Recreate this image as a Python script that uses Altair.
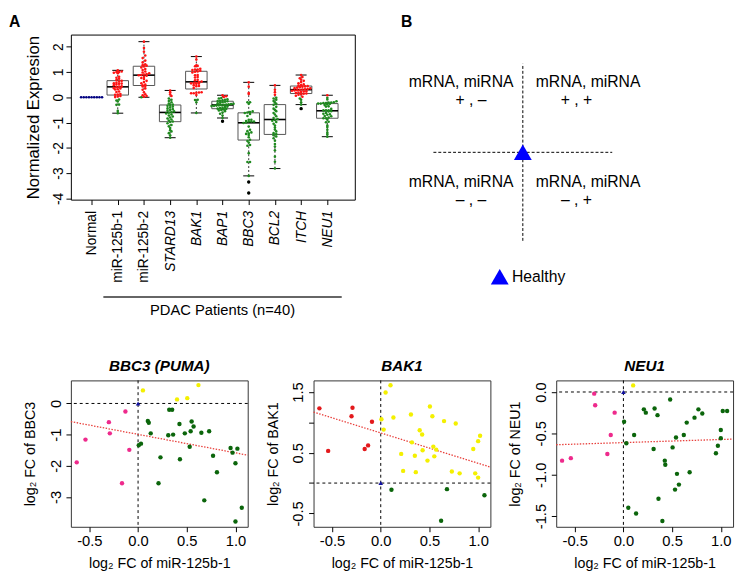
import altair as alt
import numpy as np
import pandas as pd

FONT = "Liberation Sans"

# ---------------- data ----------------
categories = ["Normal", "miR-125b-1", "miR-125b-2", "STARD13", "BAK1",
              "BAP1", "BBC3", "BCL2", "ITCH", "NEU1"]
first_gene = "STARD13"          # categories from here on are gene symbols (italic)
first_patient = "miR-125b-1"
last_patient = "NEU1"
cohort_label = "PDAC Patients (n=40)"

normal = [0.0] * 9
healthy_fc = 0.0

# per-patient log2 fold changes (40 PDAC patients)
mir125b1 = [-0.63, -0.54, -0.30, -0.29, -0.165, -0.13, -0.09, 0.007, 0.03, 0.05,
            0.10, 0.11, 0.13, 0.21, 0.23, 0.31, 0.32, 0.35, 0.36, 0.40,
            0.425, 0.43, 0.48, 0.505, 0.53, 0.54, 0.55, 0.57, 0.62, 0.65,
            0.68, 0.73, 0.77, 0.81, 0.95, 0.97, 1.0, 1.0, 1.02, 1.065]
bbc3 = [-1.89, -1.16, -0.60, -0.96, -2.56, -0.26, -1.49, -1.34, -1.29, 0.42,
        -0.56, -0.62, -0.96, -2.56, -1.73, -1.02, -0.20, -0.20, -1.00, 0.13,
        -0.66, -1.79, -0.96, 0.17, -1.39, -0.89, -0.58, -0.74, 0.59, -0.94,
        -3.11, -0.89, -1.68, -2.21, -1.43, -1.58, -1.92, -3.79, -1.45, -3.35]
bak1 = [1.23, 0.53, 1.10, 1.24, 0.56, 0.62, 1.01, 1.05, 0.88, 1.49,
        1.61, -0.11, 1.08, 0.48, 0.20, 1.13, 0.67, 0.45, 0.18, 0.87,
        0.80, 0.54, 0.37, 1.26, 1.10, 0.60, 0.44, 0.55, -0.62, 1.02,
        -0.10, 0.19, 0.98, 0.16, 0.56, 0.16, 0.69, 0.09, 0.78, -0.20]
neu1 = [-0.83, -0.80, -0.02, -0.16, -0.75, -0.52, -0.25, -0.36, -0.62, -1.40,
        0.08, -0.52, -1.47, -0.21, -0.25, -0.69, -0.20, -0.28, -1.29, -1.56,
        -0.83, -0.88, -0.09, -0.67, -1.18, -0.55, -0.99, -1.12, -0.52, -0.37,
        -0.97, -0.31, -0.21, -0.26, -0.74, -0.65, -0.56, -0.46, -0.23, -0.23]
mir125b2 = [0.0, 0.02, 0.05, 0.08, 0.12, 0.2, 0.3, 0.35, 0.43, 0.45,
            0.47, 0.5, 0.55, 0.6, 0.65, 0.72, 0.76, 0.8, 0.85, 0.87,
            0.88, 0.9, 0.92, 0.95, 0.98, 1.02, 1.08, 1.12, 1.18, 1.22,
            1.25, 1.27, 1.3, 1.38, 1.45, 1.55, 1.65, 1.8, 1.95, 2.2]
stard13 = [-1.6, -1.5, -1.42, -1.35, -1.3, -1.22, -1.15, -1.1, -1.03, -0.98,
           -0.96, -0.92, -0.88, -0.84, -0.8, -0.76, -0.72, -0.68, -0.64, -0.61,
           -0.59, -0.56, -0.53, -0.5, -0.47, -0.44, -0.4, -0.37, -0.34, -0.31,
           -0.29, -0.25, -0.2, -0.15, -0.1, -0.05, 0.05, 0.12, 0.2, 0.27]
bap1 = [-0.95, -0.82, -0.72, -0.65, -0.6, -0.55, -0.52, -0.5, -0.48, -0.46,
        -0.45, -0.43, -0.41, -0.39, -0.37, -0.35, -0.34, -0.33, -0.32, -0.31,
        -0.3, -0.29, -0.28, -0.27, -0.26, -0.24, -0.22, -0.2, -0.18, -0.16,
        -0.15, -0.14, -0.12, -0.1, -0.08, -0.05, -0.03, 0.01, 0.04, 0.08]
bcl2 = [-2.82, -2.55, -2.35, -2.1, -1.95, -1.85, -1.72, -1.62, -1.55, -1.5,
        -1.46, -1.42, -1.35, -1.28, -1.2, -1.12, -1.05, -0.98, -0.93, -0.9,
        -0.86, -0.82, -0.75, -0.68, -0.62, -0.55, -0.5, -0.45, -0.38, -0.3,
        -0.26, -0.2, -0.15, -0.1, -0.05, -0.02, 0.1, 0.2, 0.3, 0.47]
itch = [-0.45, -0.29, -0.2, -0.1, -0.05, 0.02, 0.06, 0.1, 0.12, 0.14,
        0.15, 0.17, 0.19, 0.21, 0.23, 0.24, 0.26, 0.27, 0.28, 0.29,
        0.31, 0.32, 0.33, 0.35, 0.36, 0.38, 0.4, 0.42, 0.43, 0.44,
        0.46, 0.48, 0.51, 0.55, 0.6, 0.65, 0.7, 0.75, 0.8, 0.88]

series = [normal, mir125b1, mir125b2, stard13, bak1, bap1, bbc3, bcl2, itch, neu1]

# quadrant schematic (panel B)
quad_mrna = ["+", "+", "\u2013", "\u2013"]
quad_mirna = ["\u2013", "+", "\u2013", "+"]
quad_header = "mRNA, miRNA"
healthy_label = "Healthy"


# ---------------- derived tables ----------------
def swarm_offsets(vals, bin_h=0.1, step=0.1, max_off=0.42):
    v = np.asarray(vals, dtype=float)
    bins = np.round(v / bin_h).astype(int)
    off = np.zeros(len(v))
    for b in np.unique(bins):
        members = np.where(bins == b)[0]
        members = members[np.argsort(v[members])]
        k = len(members)
        off[members] = (np.arange(k) - (k - 1) / 2.0) * step
    m = np.abs(off).max() if len(off) else 0
    if m > max_off:
        off *= max_off / m
    return off


pts_rows, box_rows, out_rows = [], [], []
for i, (cat, vals) in enumerate(zip(categories, series), start=1):
    v = np.asarray(vals, dtype=float)
    off = swarm_offsets(v)
    for val, o in zip(v, off):
        pts_rows.append({"cat": cat, "idx": i, "value": val, "xpos": i + o})
    if cat != "Normal":
        q1, med, q3 = np.percentile(v, [25, 50, 75])
        iqr = q3 - q1
        lo_f, hi_f = q1 - 1.5 * iqr, q3 + 1.5 * iqr
        inside = v[(v >= lo_f) & (v <= hi_f)]
        box_rows.append({"cat": cat, "idx": i, "q1": q1, "med": med, "q3": q3,
                         "lo": inside.min(), "hi": inside.max()})
        for val in v[(v < lo_f) | (v > hi_f)]:
            out_rows.append({"cat": cat, "idx": i, "value": val})

pts_df = pd.DataFrame(pts_rows)
box_df = pd.DataFrame(box_rows)
out_df = pd.DataFrame(out_rows)
first_idx = categories.index(first_patient) + 1
last_idx = categories.index(last_patient) + 1
bracket_df = pd.DataFrame({"x1": [first_idx - 0.55], "x2": [last_idx + 0.55],
                           "label": [cohort_label]})
bracket_df["xm"] = (bracket_df["x1"] + bracket_df["x2"]) / 2

# ---------------- panel A ----------------
xA = alt.Scale(domain=[0.21, 11.05], nice=False, zero=False)
yA = alt.Scale(domain=[-4.05, 2.48], nice=False, zero=False)
gene_start = categories.index(first_gene) + 1
label_expr = "[" + ",".join("'%s'" % c for c in categories) + "][datum.value - 1]"

xaxisA = alt.Axis(values=list(range(1, len(categories) + 1)), labelExpr=label_expr,
                  labelAngle=270, labelFontSize=14, labelPadding=6, tickSize=5,
                  labelFontStyle={"condition": {"test": "datum.value >= %d" % gene_start,
                                                "value": "italic"}, "value": "normal"},
                  title=None, labelOverlap=False, labelFlush=False)
yaxisA = alt.Axis(values=[-4, -3, -2, -1, 0, 1, 2], labelExpr="toString(datum.value)",
                  labelAngle=270, labelAlign="center", labelBaseline="bottom",
                  labelFontSize=14, labelPadding=1, tickSize=5,
                  title="Normalized Expresion", titleFontSize=17,
                  titleFontWeight="normal", titlePadding=9, labelOverlap=False)


def XA(f):
    return alt.X(f, scale=xA, axis=xaxisA)


def YA(f):
    return alt.Y(f, scale=yA, axis=yaxisA)


box_base = alt.Chart(box_df).transform_calculate(
    xl="datum.idx - 0.41", xr="datum.idx + 0.41",
    cl="datum.idx - 0.21", cr="datum.idx + 0.21")

box = box_base.mark_rect(fillOpacity=0, stroke="#555555", strokeWidth=1).encode(
    x=XA("xl:Q"), x2="xr:Q", y=YA("q1:Q"), y2="q3:Q")
wlo = box_base.mark_rule(color="black", strokeWidth=0.8, strokeDash=[2, 2]).encode(
    x=XA("idx:Q"), y=YA("lo:Q"), y2="q1:Q")
whi = box_base.mark_rule(color="black", strokeWidth=0.8, strokeDash=[2, 2]).encode(
    x=XA("idx:Q"), y=YA("q3:Q"), y2="hi:Q")
clo = box_base.mark_rule(color="black", strokeWidth=1).encode(
    x=XA("cl:Q"), x2="cr:Q", y=YA("lo:Q"))
chi = box_base.mark_rule(color="black", strokeWidth=1).encode(
    x=XA("cl:Q"), x2="cr:Q", y=YA("hi:Q"))
medl = box_base.mark_rule(color="black", strokeWidth=1.6).encode(
    x=XA("xl:Q"), x2="xr:Q", y=YA("med:Q"))

swarm = alt.Chart(pts_df).transform_calculate(
    col="datum.cat == 'Normal' ? '#000080' : (datum.value > 0 ? '#ff1414' : '#1f8a1f')"
).mark_circle(size=7, opacity=1).encode(
    x=XA("xpos:Q"), y=YA("value:Q"), color=alt.Color("col:N", scale=None))
outl = alt.Chart(out_df).mark_circle(size=12, color="black", opacity=1).encode(
    x=XA("idx:Q"), y=YA("value:Q"))

br_rule = alt.Chart(bracket_df).mark_rule(color="#333333", strokeWidth=1.5).encode(
    x=XA("x1:Q"), x2="x2:Q", y=alt.value(267))
br_text = alt.Chart(bracket_df).mark_text(fontSize=15, baseline="alphabetic", align="center",
                                          font=FONT, color="black").encode(
    x=XA("xm:Q"), y=alt.value(285), text="label:N")

panelA = alt.layer(box, wlo, whi, clo, chi, medl, swarm, outl, br_rule, br_text).properties(
    width=289, height=168,
    title=alt.TitleParams("A", anchor="start", frame="group", dx=-63, offset=5,
                          fontSize=16, fontWeight="bold"))

# ---------------- panel B ----------------
xB = alt.Scale(domain=[-1, 1], nice=False, zero=False)
yB = alt.Scale(domain=[-1.60, 1.33], nice=False, zero=False)
quad_df = pd.DataFrame({"mrna": quad_mrna, "mirna": quad_mirna})
healthy_df = pd.DataFrame({"label": [healthy_label], "mir": [healthy_fc], "mrna": [healthy_fc]})

vline = alt.Chart(healthy_df).transform_calculate(lo="-1", hi="1").mark_rule(
    color="black", strokeWidth=1, strokeDash=[3, 2]).encode(
    x=alt.X("mir:Q", scale=xB, axis=None), y=alt.Y("lo:Q", scale=yB, axis=None), y2="hi:Q")
hline = alt.Chart(healthy_df).transform_calculate(lo="-1", hi="1").mark_rule(
    color="black", strokeWidth=1, strokeDash=[3, 2]).encode(
    y=alt.Y("mrna:Q", scale=yB, axis=None), x=alt.X("lo:Q", scale=xB, axis=None), x2="hi:Q")
quad_base = alt.Chart(quad_df).transform_calculate(
    tx1="datum.mirna == '+' ? 0.73 : -0.69",
    tx2="datum.mirna == '+' ? 0.60 : -0.58",
    ty1="datum.mrna == '+' ? 0.74 : -0.39",
    ty2="datum.mrna == '+' ? 0.535 : -0.595",
    head="'%s'" % quad_header,
    signs="datum.mrna + ' , ' + datum.mirna")
qhead = quad_base.mark_text(fontSize=16, align="center", baseline="alphabetic",
                            font=FONT, color="black").encode(
    x=alt.X("tx1:Q", scale=xB, axis=None), y=alt.Y("ty1:Q", scale=yB, axis=None),
    text=alt.Text("head:N"))
qsign = quad_base.mark_text(fontSize=16, align="center", baseline="alphabetic",
                            font=FONT, color="black").encode(
    x=alt.X("tx2:Q", scale=xB, axis=None), y=alt.Y("ty2:Q", scale=yB, axis=None),
    text=alt.Text("signs:N"))
tri = alt.Chart(healthy_df).mark_point(shape="triangle-up", filled=True, size=330,
                                       opacity=1).encode(
    x=alt.X("mir:Q", scale=xB, axis=None), y=alt.Y("mrna:Q", scale=yB, axis=None),
    color=alt.Color("label:N", scale=alt.Scale(domain=[healthy_label], range=["#0000ff"]),
                    legend=alt.Legend(orient="none", legendX=58, legendY=237, title=None,
                                      symbolType="triangle-up", symbolSize=330,
                                      symbolStrokeWidth=0, symbolOpacity=1,
                                      labelFontSize=16, labelFont=FONT, labelColor="black",
                                      labelOffset=3, padding=0)))

panelB = alt.layer(vline, hline, qhead, qsign, tri).properties(
    width=182, height=264, view=alt.ViewBackground(strokeOpacity=0),
    title=alt.TitleParams("B", anchor="start", frame="group", dx=-33, offset=5,
                          fontSize=16, fontWeight="bold"))


# ---------------- scatter panels ----------------
def fmt(spec):
    return "replace(format(datum.value, '%s'), '\u2212', '-')" % spec


def scatter(gene_vals, gene, title, ydom, yvals, ylabels):
    df = pd.DataFrame({"mir": mir125b1, "fc": gene_vals})
    href = pd.DataFrame({"h": [healthy_fc]})
    xdom = [-0.69, 1.126]
    xs = alt.Scale(domain=xdom, nice=False, zero=False)
    ys = alt.Scale(domain=ydom, nice=False, zero=False)
    xax = alt.Axis(values=[-0.5, 0, 0.5, 1.0], labelExpr=fmt(".1f"), labelFontSize=15,
                   tickSize=5, labelPadding=2, title="log\u2082 FC of miR-125b-1",
                   titleFontSize=14.5, titleFontWeight="normal", titlePadding=8,
                   labelOverlap=False, labelFlush=False)
    yax = alt.Axis(values=yvals, labelExpr=ylabels, labelAngle=270, labelAlign="center",
                   labelBaseline="bottom", labelFontSize=15, tickSize=5, labelPadding=3,
                   title="log\u2082 FC of " + gene, titleFontSize=14.5,
                   titleFontWeight="normal", titlePadding=11, labelOverlap=False)

    def X(f):
        return alt.X(f, scale=xs, axis=xax)

    def Y(f):
        return alt.Y(f, scale=ys, axis=yax)

    hz = alt.Chart(href).mark_rule(color="black", strokeDash=[3, 3], strokeWidth=1).encode(
        y=Y("h:Q"))
    vt = alt.Chart(href).mark_rule(color="black", strokeDash=[3, 3], strokeWidth=1).encode(
        x=X("h:Q"))
    reg = alt.Chart(df).transform_regression("mir", "fc", extent=xdom).mark_line(
        color="#e8403c", strokeDash=[1.5, 1.5], strokeWidth=1.3).encode(
        x=X("mir:Q"), y=Y("fc:Q"))
    pts = alt.Chart(df).transform_calculate(
        col="datum.mir < 0 ? (datum.fc < 0 ? '#ee2a8c' : '#e3191c') : "
            "(datum.fc < 0 ? '#0b650b' : '#f4f000')"
    ).mark_circle(size=20, opacity=1).encode(
        x=X("mir:Q"), y=Y("fc:Q"), color=alt.Color("col:N", scale=None))
    hp = alt.Chart(href).mark_point(shape="triangle-up", filled=True, size=22, opacity=1,
                                    color="#1010a0").encode(x=X("h:Q"), y=Y("h:Q"))
    return alt.layer(hz, vt, reg, pts, hp).properties(
        width=180, height=149, view=alt.ViewBackground(stroke="#333333"),
        title=alt.TitleParams(title, fontSize=15.5, fontWeight="bold", fontStyle="italic",
                              offset=6))


s1 = scatter(bbc3, "BBC3", "BBC3 (PUMA)", [-3.96, 0.74], [-3, -2, -1, 0], fmt("d"))
s2 = scatter(bak1, "BAK1", "BAK1", [-0.72, 1.69], [-0.5, 0, 0.5, 1.0, 1.5],
             "datum.value == 0 || datum.value == 1 ? '' : " + fmt(".1f"))
s3 = scatter(neu1, "NEU1", "NEU1", [-1.63, 0.14], [-1.5, -1.0, -0.5, 0], fmt(".1f"))

row1 = alt.hconcat(panelA, panelB, spacing=80, bounds="flush").resolve_scale(
    color="independent").resolve_legend(color="independent")
row2 = alt.hconcat(s1, s2, s3, spacing=67, bounds="flush")

chart = alt.vconcat(row1, row2, spacing=40).resolve_scale(
    color="independent").resolve_legend(color="independent").properties(
    padding=0
).configure(font=FONT).configure_axis(
    labelColor="black", tickColor="black", titleColor="black", labelFont=FONT,
    titleFont=FONT, grid=False, domain=False
).configure_view(stroke="black", strokeWidth=1).configure_title(font=FONT, color="black")

chart.save("out.html", embed_options={"renderer": "svg", "actions": False})
